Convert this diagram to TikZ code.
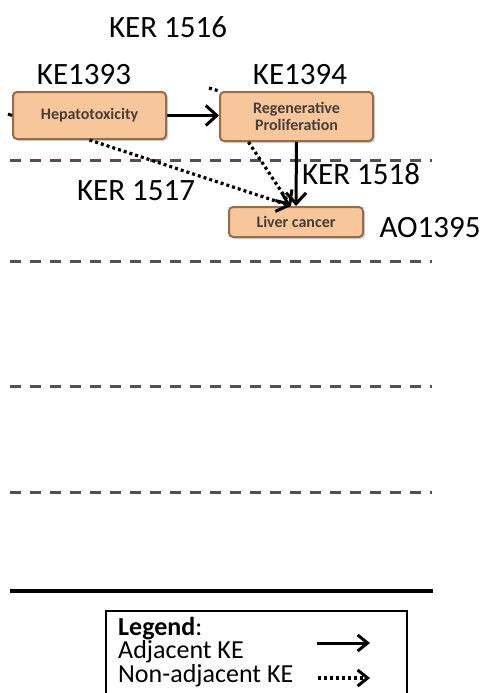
\documentclass[tikz,border=0pt]{standalone}
\usepackage{fontspec}
\setmainfont{Carlito}
\usetikzlibrary{arrows.meta,positioning,shadows}
\definecolor{keFill}{RGB}{247,198,154}
\definecolor{keEdge}{RGB}{150,108,74}
\definecolor{keText}{RGB}{70,62,58}
\definecolor{zoneLine}{RGB}{80,80,80}

\begin{document}
\begin{tikzpicture}[x=1pt,y=-1pt,
  ke/.style={draw=keEdge,line width=2pt,rounded corners=4pt,fill=keFill,inner sep=0pt,align=center,text=keText,font=\fontsize{16}{17}\selectfont\bfseries,drop shadow={shadow xshift=2pt,shadow yshift=-2pt,opacity=0.35}},
  lbl/.style={font=\fontsize{31}{37}\selectfont,inner sep=0pt},
  adj/.style={-{Straight Barb[length=11pt,width=20pt,line width=3pt]},line width=3pt},
  nonadj/.style={adj,dash pattern=on 3pt off 3pt,line width=3.2pt},
  zone/.style={zoneLine,line width=3pt,dash pattern=on 11pt off 9pt}]
    \useasboundingbox (0,0) rectangle (485,693);
    \fill[white] (0,0) rectangle (485,693);
    % Key events
    \node[ke,minimum width=153pt,minimum height=47pt] at (89.5,115.5) (hepato) {Hepatotoxicity};
    \node[ke,minimum width=153pt,minimum height=49pt] at (296.5,116.5) (regen) {Regenerative\\Proliferation};
    \node[ke,minimum width=134pt,minimum height=30pt] at (296,222) (liver) {Liver cancer};
    % Labels
    \node[lbl] at (168,27) (kerTop) {KER 1516};
    \node[lbl] at (84,75) (keHep) {KE1393};
    \node[lbl] at (300,75) (keReg) {KE1394};
    \node[lbl] at (136,191) (kerHL) {KER 1517};
    \node[lbl] at (361,174) (kerRL) {KER 1518};
    \node[lbl] at (430,228) (aoLiver) {AO1395};
    % Level separators
    \foreach \yy in {160,261,386,492}
        \draw[zone] (10,\yy) -- (432,\yy);
    \draw[line width=3.5pt] (10,591) -- (433,591);
    % Arrows
    \coordinate (inHep) at (8,114);
    \coordinate (inReg) at (209,88);
    \draw[line width=3pt] (inHep) -- (hepato.west);
    \draw[nonadj,-] (inReg) -- (regen.north west);
    \draw[adj] (hepato.east) -- (hepato.east -| regen.west);
    \draw[nonadj] (hepato.south) -- ([xshift=-5pt]liver.north);
    \draw[nonadj] ([xshift=-48pt]regen.south) -- ([xshift=-5pt]liver.north);
    \draw[adj] (regen.south) -- (liver.north);
    % Legend
    \draw[line width=2.5pt] (106,611) rectangle (407,712);
    \node[font=\fontsize{26}{23.5}\selectfont,align=left,anchor=north west,inner sep=0pt] at (118,617) (legend) {\textbf{Legend}:\\Adjacent KE\\Non-adjacent KE};
    \coordinate (adjFrom) at (317,643);
    \coordinate (adjTo) at (370,643);
    \coordinate (nonFrom) at (318,678);
    \coordinate (nonTo) at (370,678);
    \draw[adj,-{Straight Barb[length=10pt,width=16pt,line width=3pt]}] (adjFrom) -- (adjTo);
    \draw[nonadj,-{Straight Barb[length=10pt,width=16pt,line width=3pt]}] (nonFrom) -- (nonTo);
\end{tikzpicture}
\end{document}
